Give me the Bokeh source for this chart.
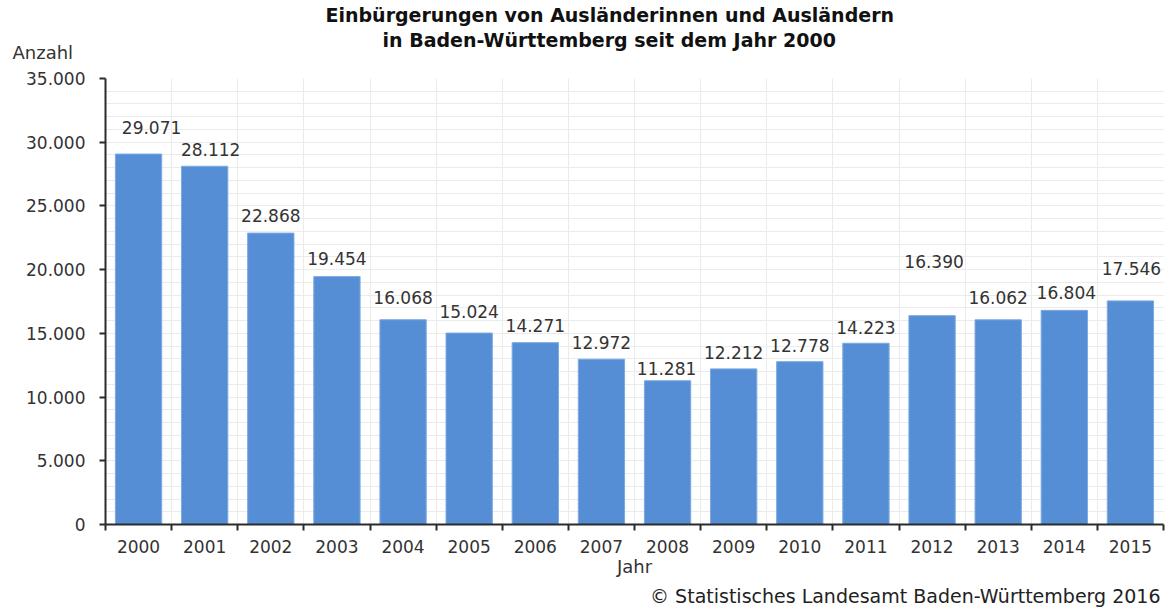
from bokeh.plotting import figure
from bokeh.models import Range1d, FixedTicker, SingleIntervalTicker, Title, ColumnDataSource
from bokeh.embed import file_html
from bokeh.resources import INLINE
from bokeh.core.properties import value

# ---------------- data ----------------
years = list(range(2000, 2016))
counts = [29071, 28112, 22868, 19454, 16068, 15024, 14271, 12972,
          11281, 12212, 12778, 14223, 16390, 16062, 16804, 17546]
y_tick_values = [0, 5000, 10000, 15000, 20000, 25000, 30000, 35000]

title_lines = ["Einbürgerungen von Ausländerinnen und Ausländern",
               "in Baden-Württemberg seit dem Jahr 2000"]
y_title = "Anzahl"
x_title = "Jahr"
source_note = "© Statistisches Landesamt Baden-Württemberg 2016"

# ---------------- layout / style ----------------
label_dx = [13, 6, 0, 0, 0, 0, 0, 0, -1, 0, 0, 0, 2, 0, 2, 1]           # px
label_dy = [-27, -17, -18, -18, -22, -22, -17, -17, -12, -16, -16, -16, -54, -22, -18, -32]  # px

W, H = 1170, 610
FONT = "DejaVu Sans"
TXT = "#333333"
AX = "#2b2b2b"
GRID = "#ebebeb"
BAR = "#558ed5"


def de(n):
    return f"{n:,}".replace(",", ".")


p = figure(width=W, height=H, output_backend="svg", toolbar_location=None,
           x_range=Range1d(years[0] - 0.5, years[-1] + 0.5), y_range=Range1d(0, 35000),
           min_border_left=105, min_border_right=7, min_border_top=0, min_border_bottom=0)
p.outline_line_color = None
p.background_fill_color = "white"
p.border_fill_color = "white"

src = ColumnDataSource(dict(x=years, top=counts, lab=[de(v) for v in counts],
                            dx=label_dx, dy=label_dy))
p.vbar(x="x", top="top", width=0.7, bottom=0, source=src,
       fill_color=BAR, line_color="#7ba9e2", line_width=1)
p.text(x="x", y="top", text="lab", x_offset="dx", y_offset="dy", source=src,
       text_align="center", text_baseline="middle",
       text_font=value(FONT), text_font_size="17px", text_color=TXT)

# axes
boundaries = [y - 0.5 for y in years] + [years[-1] + 0.5]
xa = p.xaxis[0]
xa.ticker = FixedTicker(ticks=years, minor_ticks=boundaries)
xa.major_tick_line_color = None
xa.major_tick_out = 0
xa.major_tick_in = 0
xa.minor_tick_out = 6
xa.minor_tick_in = 0
xa.minor_tick_line_color = AX
xa.minor_tick_line_width = 2
xa.axis_line_color = AX
xa.axis_line_width = 2
xa.major_label_standoff = 9
xa.major_label_text_font = FONT
xa.major_label_text_font_size = "17px"
xa.major_label_text_color = TXT
xa.axis_label = x_title
xa.axis_label_standoff = 0
xa.axis_label_text_font = FONT
xa.axis_label_text_font_size = "18px"
xa.axis_label_text_font_style = "normal"
xa.axis_label_text_color = TXT

ya = p.yaxis[0]
ya.ticker = SingleIntervalTicker(interval=5000, num_minor_ticks=5)
ya.major_label_overrides = {v: de(v) for v in y_tick_values}
ya.minor_tick_line_color = None
ya.major_tick_out = 6
ya.major_tick_in = 0
ya.major_tick_line_color = AX
ya.major_tick_line_width = 2
ya.axis_line_color = AX
ya.axis_line_width = 2
ya.major_label_standoff = 14
ya.major_label_text_font = FONT
ya.major_label_text_font_size = "17px"
ya.major_label_text_color = TXT

# grid
p.ygrid.grid_line_color = GRID
p.ygrid.minor_grid_line_color = GRID
p.xgrid.ticker = FixedTicker(ticks=boundaries)
p.xgrid.grid_line_color = GRID

# texts
p.add_layout(Title(text=y_title, align="left", vertical_align="top", offset=-93, standoff=28,
                   text_font=FONT, text_font_size="18px", text_font_style="normal",
                   text_color=TXT), "above")
p.add_layout(Title(text=title_lines[1], align="left", offset=277, standoff=-46,
                   text_font=FONT, text_font_size="19px", text_font_style="bold",
                   text_color="#111111"), "above")
p.add_layout(Title(text=title_lines[0], align="left", offset=220, standoff=3,
                   text_font=FONT, text_font_size="19px", text_font_style="bold",
                   text_color="#111111"), "above")
p.add_layout(Title(text=source_note, align="right", offset=3, standoff=7,
                   text_font=FONT, text_font_size="19px", text_font_style="normal",
                   text_color="#222222"), "below")

open("out.html", "w").write(file_html(p, INLINE))
